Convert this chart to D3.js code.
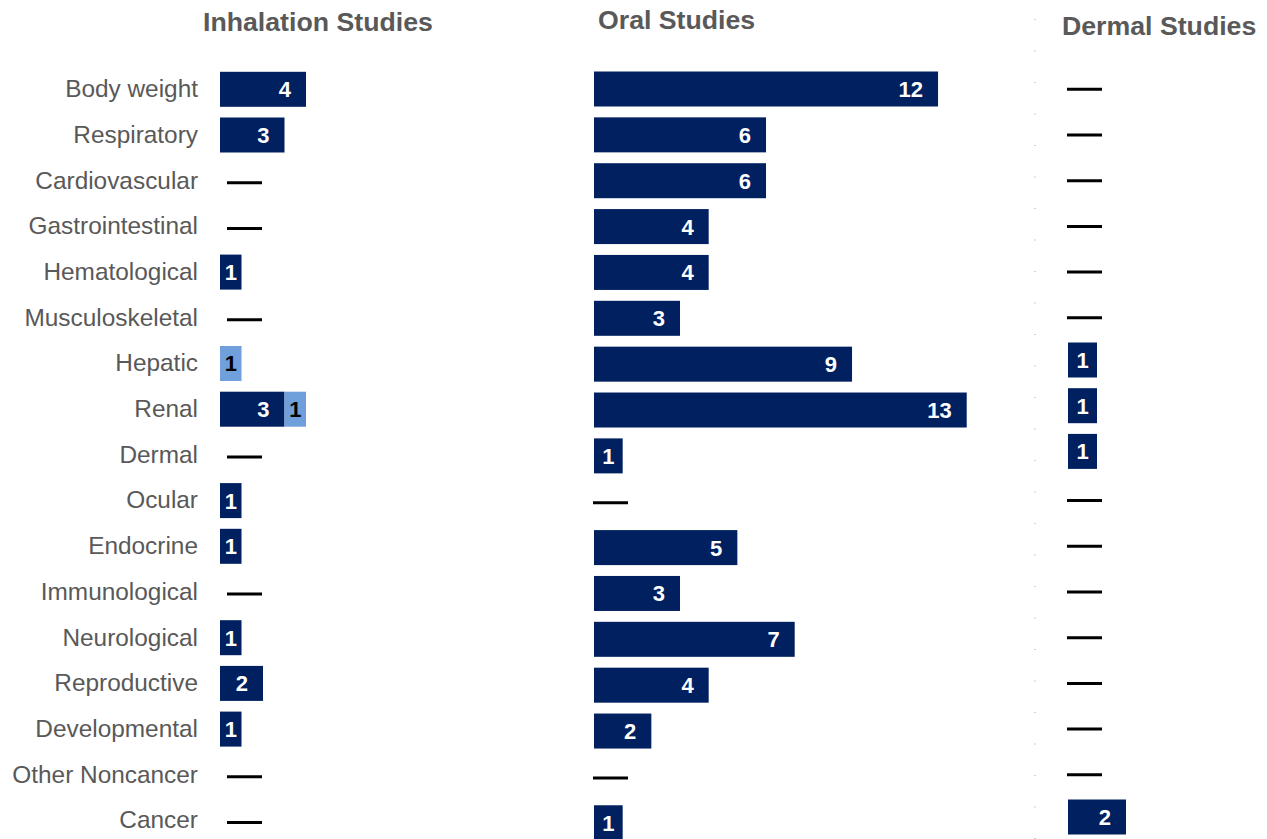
<!DOCTYPE html>
<html><head><meta charset="utf-8">
<script src="https://cdn.jsdelivr.net/npm/d3@7"></script>
<style>html,body{margin:0;padding:0;background:#fff;}svg{display:block;}</style>
</head><body>
<svg id="chart" width="1267" height="839"></svg>
<script>
const categories = ["Body weight","Respiratory","Cardiovascular","Gastrointestinal","Hematological","Musculoskeletal","Hepatic","Renal","Dermal","Ocular","Endocrine","Immunological","Neurological","Reproductive","Developmental","Other Noncancer","Cancer"];
const inhalationMain  = [4,3,null,null,1,null,0,3,null,1,1,null,1,2,1,null,null];
const inhalationOther = [0,0,null,null,0,null,1,1,null,0,0,null,0,0,0,null,null];
const oralMain  = [12,6,6,4,4,3,9,13,1,null,5,3,7,4,2,null,1];
const dermalMain = [null,null,null,null,null,null,1,1,1,null,null,null,null,null,null,null,2];
const panelTitles = ["Inhalation Studies","Oral Studies","Dermal Studies"];

const DARK = "#002060", LIGHT = "#6fa0dc", GREY = "#595959";
const FONT = "Liberation Sans, Arial, sans-serif";
const svg = d3.select("#chart");

const panels = [
  {title: panelTitles[0], main: inhalationMain, other: inhalationOther, x0: 220, unit: 21.5, y0: 89.3, step: 45.7, dashOff: 7, dashY: 2, tx: 203, ty: 31},
  {title: panelTitles[1], main: oralMain, other: null, x0: 594, unit: 28.67, y0: 89, step: 45.86, dashOff: -1, dashY: 1, tx: 598, ty: 29},
  {title: panelTitles[2], main: dermalMain, other: null, x0: 1068, unit: 29, y0: 85.8, step: 45.7, dashOff: -1, dashY: 3.5, tx: 1062, ty: 35}
];

// category labels (aligned with inhalation rows)
const yLab = d3.scalePoint().domain(categories).range([panels[0].y0, panels[0].y0 + 16*panels[0].step]);
svg.append("g").selectAll("text").data(categories).join("text")
  .attr("x", 198).attr("y", d => yLab(d) - 0.7).attr("dy", "0.35em")
  .attr("text-anchor", "end").attr("font-family", FONT).attr("font-size", 24.4)
  .attr("fill", GREY).text(d => d);

// faint dotted marks near dermal panel
svg.append("g").selectAll("rect").data(d3.range(19, 839, 31.5)).join("rect")
  .attr("x", 1034).attr("y", d => d).attr("width", 2).attr("height", 1).attr("fill", "#d0d0d0");

panels.forEach(p => {
  const y = d3.scalePoint().domain(categories).range([p.y0, p.y0 + 16*p.step]);
  const x = d3.scaleLinear().domain([0, 1]).range([p.x0, p.x0 + p.unit]);
  const g = svg.append("g");
  const H = 35;

  g.append("text").attr("x", p.tx).attr("y", p.ty)
    .attr("font-family", FONT).attr("font-weight", "bold").attr("font-size", 26.7)
    .attr("fill", GREY).text(p.title);

  const rows = categories.map((c, i) => ({c, main: p.main[i], other: p.other ? p.other[i] : 0}));

  // dashes for no data
  g.selectAll("line.dash").data(rows.filter(r => r.main === null)).join("line")
    .attr("class", "dash")
    .attr("x1", p.x0 + p.dashOff).attr("x2", p.x0 + p.dashOff + 35)
    .attr("y1", r => y(r.c) + p.dashY).attr("y2", r => y(r.c) + p.dashY)
    .attr("stroke", "#000").attr("stroke-width", 3);

  const segs = [];
  rows.forEach(r => {
    if (r.main === null) return;
    if (r.main > 0) segs.push({c: r.c, start: 0, v: r.main, color: DARK, textColor: "#fff"});
    if (r.other > 0) segs.push({c: r.c, start: r.main, v: r.other, color: LIGHT, textColor: "#000"});
  });

  g.selectAll("rect.bar").data(segs).join("rect").attr("class", "bar")
    .attr("x", s => x(s.start)).attr("width", s => x(s.start + s.v) - x(s.start))
    .attr("y", s => y(s.c) - H/2).attr("height", H).attr("fill", s => s.color);

  g.selectAll("text.val").data(segs).join("text").attr("class", "val")
    .attr("font-family", FONT).attr("font-weight", "bold").attr("font-size", 22)
    .attr("fill", s => s.textColor).attr("text-anchor", "end")
    .attr("y", s => y(s.c)).attr("dy", "0.36em")
    .text(s => s.v)
    .each(function(s) {
      const tw = this.getComputedTextLength();
      const w = x(s.start + s.v) - x(s.start);
      const pad = Math.min(15, Math.max(0, (w - tw) / 2));
      d3.select(this).attr("x", x(s.start + s.v) - pad);
    });
});
</script>
</body></html>
